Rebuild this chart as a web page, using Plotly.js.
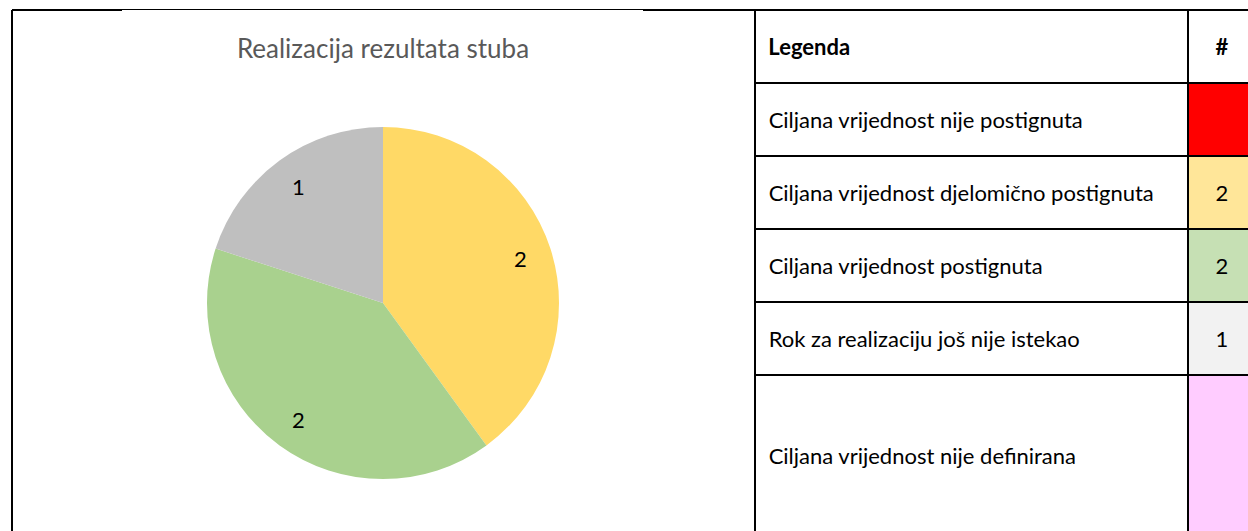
<!DOCTYPE html>
<html><head><meta charset="utf-8">
<script src="https://cdn.plot.ly/plotly-3.0.1.min.js"></script>
<style>html,body{margin:0;padding:0;overflow:hidden;background:#fff}</style>
</head><body><div id="chart"></div>
<script>
const chartTitle = "Realizacija rezultata stuba";
const headerLabels = ["Legenda", "#"];
const categories = [
  "Ciljana vrijednost nije postignuta",
  "Ciljana vrijednost djelomično postignuta",
  "Ciljana vrijednost postignuta",
  "Rok za realizaciju još nije istekao",
  "Ciljana vrijednost nije definirana"
];
const counts = [null, 2, 2, 1, null];
const pieColors = ["#FF0000", "#FFD966", "#A9D18E", "#BFBFBF", "#FF99FF"];
const legendColors = ["#FF0000", "#FFE699", "#C6E0B4", "#F2F2F2", "#FFCCFF"];

// ---- layout / style ----
const W = 1256, H = 560;
const px = x => x / W;
const py = y => 1 - y / H;
const FONT = "Lato, 'Open Sans', sans-serif";
const TXT = 22;          // table text size
const ROW = 73;          // table row height
const TABLE_TOP = 10, TEXT_SHIFT = 15;
const TALL_SPACER = 62.5; // spacer line size used to centre text in the tall last row
const pieCx = 383, pieCy = 303, pieR = 176, labelFrac = 0.82;

const idx = counts.map((v, i) => (v == null ? -1 : i)).filter(i => i >= 0);
const pieVals = idx.map(i => counts[i]);

const pie = {
  type: "pie",
  values: pieVals,
  labels: idx.map(i => categories[i]),
  marker: { colors: idx.map(i => pieColors[i]), line: { width: 0 } },
  sort: false,
  direction: "clockwise",
  rotation: 0,
  textinfo: "none",
  domain: { x: [px(pieCx - pieR), px(pieCx + pieR)], y: [py(pieCy + pieR), py(pieCy - pieR)] },
  showlegend: false,
  hoverinfo: "label+value"
};

// value labels placed along each slice's bisector (derived from the data)
const total = pieVals.reduce((a, b) => a + b, 0);
let cum = 0;
const pieLabels = pieVals.map(v => {
  const mid = (cum + v / 2) / total * 2 * Math.PI;
  cum += v;
  const x = pieCx + labelFrac * pieR * Math.sin(mid);
  const y = pieCy - labelFrac * pieR * Math.cos(mid);
  return {
    xref: "paper", yref: "paper", x: px(x), y: py(y),
    xanchor: "center", yanchor: "middle", showarrow: false,
    text: String(v), font: { family: FONT, size: 22, color: "#000" }
  };
});

const pad = "\u00a0";
const last = categories.length - 1;
const white = categories.map(() => "#FFFFFF");
const clear = "rgba(0,0,0,0)";
const line1 = t => t + "<br>";   // explicit line break keeps the label on one line

// Table A: grid, fills, and the text of the tall last row
const tallText = i => (i === last
  ? "<br><span style='font-size:" + TXT + "px'>" + pad + categories[i] + "</span><br>\u00a0<br>\u00a0"
  : "");
const tableGrid = {
  type: "table",
  domain: { x: [px(755), 1], y: [0, py(TABLE_TOP)] },
  columnwidth: [433, 68],
  header: {
    values: ["", ""],
    height: ROW,
    fill: { color: "#FFFFFF" },
    line: { color: "#000000", width: 2 },
    font: { family: FONT, size: TXT, color: "#000" }
  },
  cells: {
    values: [categories.map((c, i) => tallText(i)), counts.map(() => "")],
    align: ["left", "center"],
    height: ROW,
    fill: { color: [white, legendColors] },
    line: { color: "#000000", width: 2 },
    font: { family: FONT, size: TALL_SPACER, color: "#000" }
  }
};

// Table B: text of the header and regular rows (transparent overlay)
const tableText = {
  type: "table",
  domain: { x: [px(755), 1], y: [0, py(TABLE_TOP + TEXT_SHIFT)] },
  columnwidth: [433, 68],
  header: {
    values: [line1("<b>" + pad + headerLabels[0] + "</b>"), line1("<b>" + headerLabels[1] + "</b>")],
    align: ["left", "center"],
    height: ROW,
    fill: { color: clear },
    line: { color: clear, width: 0 },
    font: { family: FONT, size: TXT, color: "#000" }
  },
  cells: {
    values: [
      categories.map((c, i) => (i === last ? "" : line1(pad + c))),
      counts.map((v, i) => (v == null || i === last ? "" : line1(String(v))))
    ],
    align: ["left", "center"],
    height: ROW,
    fill: { color: clear },
    line: { color: clear, width: 0 },
    font: { family: FONT, size: TXT, color: "#000" }
  }
};

const layout = {
  width: W, height: H,
  margin: { l: 0, r: 0, t: 0, b: 0 },
  paper_bgcolor: "#FFFFFF",
  title: {
    text: chartTitle,
    font: { family: FONT, size: 26, color: "#595959" },
    x: px(383), xanchor: "center", xref: "paper",
    y: py(49), yanchor: "middle", yref: "paper"
  },
  annotations: pieLabels,
  shapes: [
    { type: "line", xref: "paper", yref: "paper", x0: px(12), x1: px(12), y0: py(10), y1: 0, line: { color: "#000", width: 2 } },
    { type: "line", xref: "paper", yref: "paper", x0: px(12), x1: px(122), y0: py(10), y1: py(10), line: { color: "#000", width: 2 } },
    { type: "line", xref: "paper", yref: "paper", x0: px(122), x1: px(643), y0: py(9.5), y1: py(9.5), line: { color: "#000", width: 1 } },
    { type: "line", xref: "paper", yref: "paper", x0: px(643), x1: px(755), y0: py(10), y1: py(10), line: { color: "#000", width: 2 } }
  ]
};

Plotly.newPlot("chart", [pie, tableGrid, tableText], layout, { displayModeBar: false, staticPlot: true });
</script></body></html>
